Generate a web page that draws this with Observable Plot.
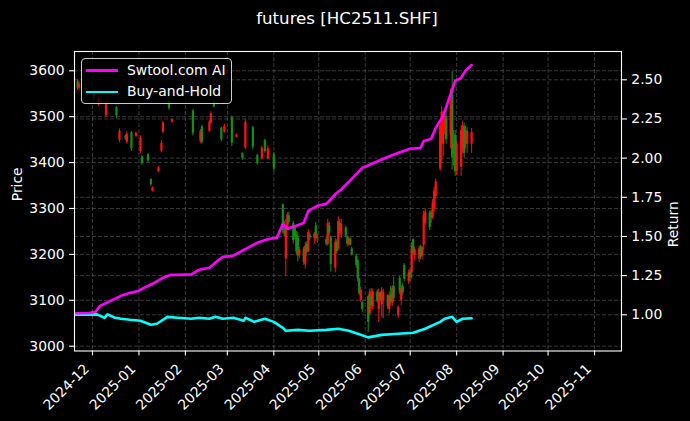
<!DOCTYPE html>
<html><head><meta charset="utf-8">
<script src="https://cdn.jsdelivr.net/npm/d3@7"></script>
<script src="https://cdn.jsdelivr.net/npm/@observablehq/plot@0.6"></script>
<style>
html,body{margin:0;padding:0;background:#000;}
#wrap{position:relative;width:690px;height:421px;background:#000;font-family:"DejaVu Sans",sans-serif;color:#fff;overflow:hidden}
#title{position:absolute;left:0;top:0;width:694px;text-align:center;font-size:16.67px;line-height:38px;height:38px}
#chart{position:absolute;left:0;top:38px}
#legend{position:absolute;left:81px;top:58px;width:151px;height:46px;border:1px solid #cccccc;border-radius:4px;background:rgba(0,0,0,0.8);box-sizing:border-box;font-size:13.9px}
.sw{position:absolute;left:4px;width:32px;height:2.6px}
.lb{position:absolute;left:45px;line-height:16px;white-space:nowrap}
</style></head>
<body>
<div id="wrap">
  <div id="title">futures [HC2511.SHF]</div>
  <div id="chart"></div>
  <div id="legend">
    <div class="sw" style="top:10px;background:#ff00ff"></div>
    <div class="lb" style="top:2.5px">Swtool.com AI</div>
    <div class="sw" style="top:31.5px;background:#00ffff"></div>
    <div class="lb" style="top:24px">Buy-and-Hold</div>
  </div>
</div>
<script>
// ---- Candles (daily OHLC) ----
const candleDates = ["2024-11-21","2024-11-22","2024-11-26","2024-12-02","2024-12-05","2024-12-10","2024-12-17","2024-12-19","2024-12-23","2024-12-24","2024-12-27","2024-12-30",
"2025-01-02","2025-01-03","2025-01-07","2025-01-09","2025-01-10","2025-01-14","2025-01-16","2025-01-17","2025-01-21","2025-01-23",
"2025-02-06","2025-02-11","2025-02-12","2025-02-17","2025-02-18","2025-02-20","2025-02-25","2025-02-27",
"2025-03-04","2025-03-07","2025-03-11","2025-03-13","2025-03-18","2025-03-21","2025-03-24","2025-03-26","2025-03-28",
"2025-04-01","2025-04-07","2025-04-08","2025-04-09","2025-04-10","2025-04-11","2025-04-14","2025-04-15","2025-04-16","2025-04-17","2025-04-18","2025-04-21","2025-04-22","2025-04-23","2025-04-24","2025-04-25","2025-04-28","2025-04-29","2025-04-30",
"2025-05-06","2025-05-07","2025-05-08","2025-05-09","2025-05-12","2025-05-13","2025-05-14","2025-05-15","2025-05-16","2025-05-19","2025-05-20","2025-05-21","2025-05-22","2025-05-23","2025-05-26","2025-05-27","2025-05-28","2025-05-29","2025-05-30",
"2025-06-03","2025-06-04","2025-06-05","2025-06-06","2025-06-09","2025-06-10","2025-06-11","2025-06-12","2025-06-13","2025-06-16","2025-06-17","2025-06-18","2025-06-19","2025-06-20","2025-06-23","2025-06-24","2025-06-25","2025-06-26","2025-06-27","2025-06-30",
"2025-07-01","2025-07-02","2025-07-03","2025-07-04","2025-07-07","2025-07-08","2025-07-09","2025-07-10","2025-07-11","2025-07-14","2025-07-15","2025-07-16","2025-07-17","2025-07-18","2025-07-21","2025-07-22","2025-07-23","2025-07-24","2025-07-25","2025-07-28","2025-07-29","2025-07-30","2025-07-31",
"2025-08-01","2025-08-04","2025-08-05","2025-08-06","2025-08-07","2025-08-08","2025-08-11"];
const candleOpen = [3576,3562,3560,3548,3530,3502,3520,3448,3458,3444,3465,3457,
3424,3413,3417,3363,3338,3380,3425,3466,3532,3488,
3512,3446,3478,3468,3486,3530,3475,3466,
3498,3455,3420,3432,3476,3416,3408,3448,3408,
3418,3308,3262,3190,3258,3284,3268,3258,3242,3236,3198,3212,3178,3222,3206,3242,3236,3262,3236,
3232,3222,3262,3238,3170,3226,3212,3268,3242,3258,3238,3222,3234,3212,3196,3186,3146,3100,3096,
3108,3070,3110,3086,3118,3080,3116,3090,3098,3110,3080,3112,3094,3130,3066,3148,3100,3130,3176,3140,
3162,3160,3232,3198,3190,3216,3196,3220,3268,3290,3292,3280,3300,3326,3386,3440,3440,3470,3500,3460,3560,3440,3460,
3380,3390,3430,3478,3470,3440,3440];
const candleHigh = [3580,3578,3572,3560,3545,3532,3522,3473,3460,3467,3468,3466,
3458,3415,3419,3365,3347,3392,3447,3490,3534,3495,
3516,3472,3481,3492,3511,3533,3477,3483,
3501,3462,3421,3494,3479,3418,3436,3451,3436,
3422,3310,3272,3276,3291,3292,3272,3262,3250,3248,3215,3216,3226,3228,3254,3246,3248,3270,3244,
3240,3276,3270,3240,3234,3232,3282,3276,3276,3262,3240,3238,3236,3216,3200,3188,3148,3128,3098,
3112,3124,3126,3124,3122,3124,3118,3128,3124,3112,3118,3130,3132,3150,3088,3152,3132,3136,3180,3166,
3168,3226,3234,3216,3218,3220,3218,3294,3298,3294,3296,3320,3346,3364,3492,3522,3512,3512,3520,3560,3598,3470,3470,
3450,3480,3490,3486,3480,3476,3474];
const candleLow = [3558,3556,3550,3535,3522,3498,3496,3444,3448,3440,3424,3455,
3420,3394,3400,3348,3336,3378,3422,3463,3514,3486,
3458,3442,3440,3466,3484,3519,3446,3464,
3435,3454,3405,3428,3428,3395,3406,3420,3406,
3380,3246,3238,3152,3252,3264,3222,3232,3200,3184,3190,3176,3168,3196,3204,3230,3222,3228,3224,
3218,3218,3240,3162,3160,3200,3208,3240,3234,3236,3216,3218,3218,3196,3170,3140,3110,3096,3074,
3030,3066,3082,3080,3094,3052,3096,3062,3060,3080,3070,3088,3086,3096,3060,3112,3088,3110,3140,3134,
3140,3146,3196,3186,3182,3188,3188,3210,3262,3252,3268,3276,3292,3320,3382,3400,3412,3461,3440,3430,3384,3392,3370,
3372,3370,3420,3410,3430,3420,3420];
const candleClose = [3562,3572,3556,3540,3538,3526,3502,3468,3451,3462,3430,3464,
3452,3398,3403,3352,3345,3388,3442,3486,3518,3493,
3464,3468,3444,3488,3506,3521,3450,3478,
3442,3460,3408,3488,3434,3398,3432,3424,3430,
3386,3252,3244,3262,3286,3270,3230,3238,3206,3196,3210,3182,3218,3204,3248,3236,3244,3234,3240,
3222,3268,3246,3178,3226,3206,3272,3250,3266,3240,3222,3232,3220,3200,3176,3146,3114,3122,3080,
3052,3118,3088,3118,3098,3116,3100,3120,3118,3086,3110,3096,3126,3104,3084,3118,3126,3116,3146,3160,
3150,3218,3202,3210,3212,3194,3214,3286,3292,3258,3280,3312,3338,3358,3480,3510,3500,3505,3450,3530,3410,3420,3380,
3440,3470,3480,3420,3440,3468,3466];

// ---- Return lines (right axis) ----
const aiDates = ["2024-11-20","2024-11-29","2024-12-03","2024-12-06","2024-12-13","2024-12-20","2024-12-26","2024-12-31","2025-01-03","2025-01-10","2025-01-17","2025-01-22","2025-01-27","2025-02-05","2025-02-10","2025-02-17","2025-02-20","2025-02-26","2025-03-05","2025-03-12","2025-03-21","2025-03-27","2025-04-01","2025-04-03","2025-04-07","2025-04-10","2025-04-16","2025-04-21","2025-04-24","2025-04-30","2025-05-06","2025-05-13","2025-05-16","2025-05-23","2025-05-30","2025-06-10","2025-06-18","2025-06-27","2025-07-01","2025-07-08","2025-07-10","2025-07-15","2025-07-18","2025-07-23","2025-07-28","2025-07-31","2025-08-04","2025-08-07","2025-08-11"];
const aiReturn = [1.010,1.012,1.020,1.057,1.089,1.121,1.140,1.150,1.166,1.198,1.236,1.255,1.255,1.258,1.287,1.300,1.325,1.370,1.377,1.415,1.460,1.480,1.490,1.492,1.580,1.549,1.568,1.587,1.664,1.696,1.708,1.779,1.800,1.868,1.938,1.983,2.015,2.047,2.060,2.066,2.110,2.123,2.193,2.270,2.410,2.493,2.512,2.560,2.594];
const bhDates = ["2024-11-20","2024-12-04","2024-12-09","2024-12-11","2024-12-16","2024-12-20","2024-12-26","2025-01-02","2025-01-09","2025-01-13","2025-01-20","2025-01-27","2025-02-05","2025-02-10","2025-02-17","2025-02-21","2025-02-26","2025-03-05","2025-03-12","2025-03-13","2025-03-19","2025-03-26","2025-04-01","2025-04-07","2025-04-09","2025-04-17","2025-04-25","2025-05-06","2025-05-14","2025-05-21","2025-05-27","2025-06-03","2025-06-12","2025-06-23","2025-07-03","2025-07-11","2025-07-21","2025-07-24","2025-07-29","2025-08-01","2025-08-05","2025-08-11"];
const bhReturn = [1.000,1.003,0.981,1.003,0.981,0.975,0.968,0.962,0.936,0.943,0.987,0.981,0.975,0.981,0.975,0.987,0.975,0.981,0.962,0.981,0.955,0.975,0.955,0.917,0.898,0.904,0.898,0.904,0.911,0.898,0.879,0.856,0.872,0.879,0.885,0.911,0.955,0.975,0.987,0.955,0.975,0.978];

// ---- Axes ----
const monthTicks = ["2024-12-01","2025-01-01","2025-02-01","2025-03-01","2025-04-01","2025-05-01","2025-06-01","2025-07-01","2025-08-01","2025-09-01","2025-10-01","2025-11-01"];
const priceTicks = [3000,3100,3200,3300,3400,3500,3600];
const returnTicks = [1.00,1.25,1.50,1.75,2.00,2.25,2.50];
const priceDomain = [2989.5, 3642];
const returnDomain = [0.769, 2.6806];
const xDomain = ["2024-11-19","2025-11-19"];

const candles = candleDates.map((d,i)=>({date:new Date(d),open:candleOpen[i],high:candleHigh[i],low:candleLow[i],close:candleClose[i]}));
const ai = aiDates.map((d,i)=>({date:new Date(d),r:aiReturn[i]}));
const bh = bhDates.map((d,i)=>({date:new Date(d),r:bhReturn[i]}));
const months = monthTicks.map(d=>new Date(d));
const toPrice = d3.scaleLinear().domain(returnDomain).range(priceDomain);
const fmt = d3.utcFormat("%Y-%m");
const col = d => d.close >= d.open ? "#ff1010" : "#129012";
const gridStyle = {stroke:"#b0b0b0", strokeOpacity:0.4, strokeWidth:0.8, strokeDasharray:"4,2"};
const FS = 13.9;

const chart = Plot.plot({
  width:690, height:383,
  marginTop:13, marginBottom:70.5, marginLeft:74, marginRight:69,
  style:{background:"black", color:"white", fontFamily:"DejaVu Sans, sans-serif", fontSize:FS+"px"},
  x:{type:"utc", domain:xDomain.map(d=>new Date(d))},
  y:{domain:priceDomain},
  marks:[
    Plot.gridX(months, gridStyle),
    Plot.gridY(priceTicks, gridStyle),
    Plot.gridY(returnTicks.map(toPrice), gridStyle),
    Plot.ruleX(candles, {x:"date", y1:"low", y2:"high", stroke:col, strokeWidth:1}),
    Plot.ruleX(candles, {x:"date", y1:"open", y2:"close", stroke:col, strokeWidth:2.2}),
    Plot.line(bh, {x:"date", y:d=>toPrice(d.r), stroke:"#00ffff", strokeWidth:2.6, curve:"linear"}),
    Plot.line(ai, {x:"date", y:d=>toPrice(d.r), stroke:"#ff00ff", strokeWidth:2.6, curve:"linear"}),
    Plot.frame({stroke:"white", strokeWidth:1.1}),
    Plot.axisY(priceTicks, {anchor:"left", tickSize:4.9, tickPadding:4.9, fontSize:FS, stroke:"white", fill:"white", strokeWidth:1.1, label:null, tickFormat:d=>String(d)}),
    Plot.axisY(returnTicks.map(toPrice), {anchor:"right", tickSize:4.9, tickPadding:4.9, fontSize:FS, stroke:"white", fill:"white", strokeWidth:1.1, label:null, tickFormat:d=>toPrice.invert(d).toFixed(2)}),
    Plot.axisX(months, {anchor:"bottom", tickSize:4.9, stroke:"white", strokeWidth:1.1, label:null, tickFormat:()=>""}),
    Plot.text(months, {x:d=>d, text:d=>fmt(d), frameAnchor:"bottom", rotate:-45, textAnchor:"end", lineAnchor:"middle", dx:-5.7, dy:15.5, fill:"white", fontSize:FS}),
    Plot.text(["Price"], {text:d=>d, frameAnchor:"left", dx:-57, rotate:-90, fill:"white", fontSize:FS}),
    Plot.text(["Return"], {text:d=>d, frameAnchor:"right", dx:52, rotate:-90, fill:"white", fontSize:FS})
  ]
});
document.getElementById("chart").appendChild(chart);
</script>
</body></html>
